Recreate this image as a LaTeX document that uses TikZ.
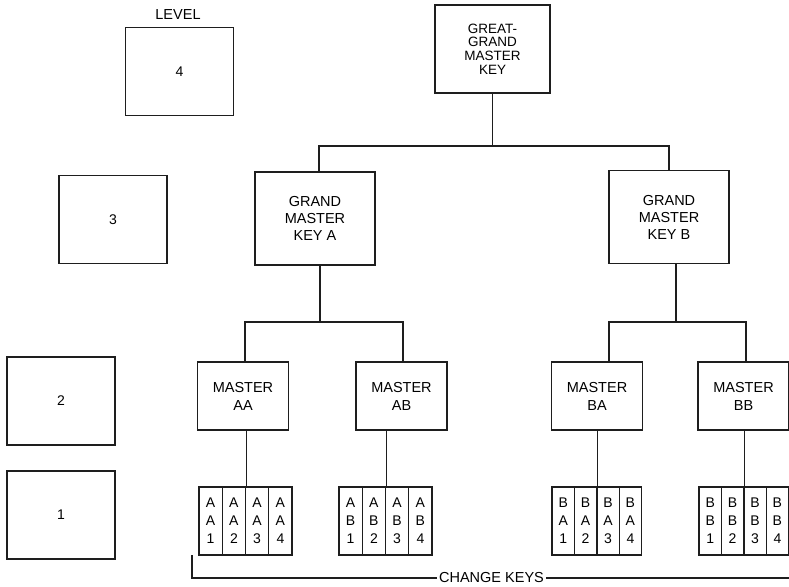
\documentclass[tikz,border=0pt]{standalone}
\usepackage{fontspec}
\setmainfont{Liberation Sans}
\definecolor{inkline}{HTML}{1E1E1E}
\tikzset{
  lvlbox/.style={rectangle, draw=inkline, line width=1.4pt, minimum width=108pt, minimum height=88pt, inner sep=0pt, font=\fontsize{14}{17}\selectfont},
  ggbox/.style={rectangle, draw=inkline, line width=1.4pt, minimum width=115pt, minimum height=88pt, inner sep=0pt, align=center, font=\fontsize{13.5}{13.6}\selectfont},
  grandbox/.style={rectangle, draw=inkline, line width=1.4pt, minimum width=120pt, minimum height=93pt, inner sep=0pt, align=center, font=\fontsize{14.5}{17}\selectfont},
  mastbox/.style={rectangle, draw=inkline, line width=1.4pt, minimum width=91pt, minimum height=68pt, inner sep=0pt, align=center, font=\fontsize{14.5}{18}\selectfont},
  keycell/.style={rectangle, draw=inkline, line width=1.4pt, minimum width=23.25pt, minimum height=68pt, inner sep=0pt, align=center, font=\fontsize{14}{18}\selectfont},
  bcell/.style={keycell, minimum width=22.4pt},
  link/.style={draw=inkline, line width=1.4pt},
  lbl/.style={font=\fontsize{14.5}{17}\selectfont, inner sep=0pt},
}
\begin{document}
\begin{tikzpicture}[x=1pt,y=-1pt]
  \useasboundingbox (0,0) rectangle (789,586);
  % level column
  \node[lbl] (lvl) at (178,15) {LEVEL};
  \node[lvlbox] (lv4) at (179.5,71.5) {4};
  \node[lvlbox] (lv3) at (113,219.5) {3};
  \node[lvlbox] (lv2) at (61,401) {2};
  \node[lvlbox] (lv1) at (61,515) {1};
  % key tree
  \node[ggbox] (gg) at (492.5,49) {GREAT-\\GRAND\\MASTER\\KEY};
  \node[grandbox] (gA) at (315,218.5) {GRAND\\MASTER\\KEY A};
  \node[grandbox] (gB) at (669,217) {GRAND\\MASTER\\KEY B};
  \node[mastbox] (mAA) at (243,396) {MASTER\\AA};
  \node[mastbox] (mAB) at (401.5,396) {MASTER\\AB};
  \node[mastbox] (mBA) at (597,396) {MASTER\\BA};
  \node[mastbox] (mBB) at (743.5,396) {MASTER\\BB};
  % change keys
  \node[keycell] (kAA1) at (210.6,521) {A\\A\\1};
  \node[keycell] (kAA2) at (233.9,521) {A\\A\\2};
  \node[keycell] (kAA3) at (257.1,521) {A\\A\\3};
  \node[keycell] (kAA4) at (280.4,521) {A\\A\\4};
  \node[keycell] (kAB1) at (350.6,521) {A\\B\\1};
  \node[keycell] (kAB2) at (373.9,521) {A\\B\\2};
  \node[keycell] (kAB3) at (397.1,521) {A\\B\\3};
  \node[keycell] (kAB4) at (420.4,521) {A\\B\\4};
  \node[bcell] (kBA1) at (563.2,521) {B\\A\\1};
  \node[bcell] (kBA2) at (585.6,521) {B\\A\\2};
  \node[bcell] (kBA3) at (608.0,521) {B\\A\\3};
  \node[bcell] (kBA4) at (630.4,521) {B\\A\\4};
  \node[bcell] (kBB1) at (710.2,521) {B\\B\\1};
  \node[bcell] (kBB2) at (732.6,521) {B\\B\\2};
  \node[bcell] (kBB3) at (755.0,521) {B\\B\\3};
  \node[bcell] (kBB4) at (777.4,521) {B\\B\\4};
  % junctions
  \coordinate (jT) at (492.5,146);
  \coordinate (tA) at (319,146);
  \coordinate (tB) at (669,146);
  \coordinate (jA) at (320,322);
  \coordinate (aA) at (245,322);
  \coordinate (aB) at (403,322);
  \coordinate (jB) at (676,322);
  \coordinate (bA) at (609,322);
  \coordinate (bB) at (746,322);
  \draw[link] (gg.south) -- (jT);
  \draw[link] (tA |- gA.north) -- (tA) -- (tB) -- (tB |- gB.north);
  \draw[link] (gA.south -| jA) -- (jA);
  \draw[link] (aA |- mAA.north) -- (aA) -- (aB) -- (aB |- mAB.north);
  \draw[link] (gB.south -| jB) -- (jB);
  \draw[link] (bA |- mBA.north) -- (bA) -- (bB) -- (bB |- mBB.north);
  \draw[link] (kAA2.north east) -- (kAA2.north east |- mAA.south);
  \draw[link] (kAB2.north east) -- (kAB2.north east |- mAB.south);
  \draw[link] (kBA2.north east) -- (kBA2.north east |- mBA.south);
  \draw[link] (kBB2.north east) -- (kBB2.north east |- mBB.south);
  % bracket
  \coordinate (ck) at (192,555);
  \coordinate (ckend) at (789,578);
  \node[lbl, inner xsep=2pt] (chg) at (491.5,578) {CHANGE KEYS};
  \draw[link] (ck) |- (chg.west);
  \draw[link] (chg.east) -- (ckend);
\end{tikzpicture}
\end{document}
